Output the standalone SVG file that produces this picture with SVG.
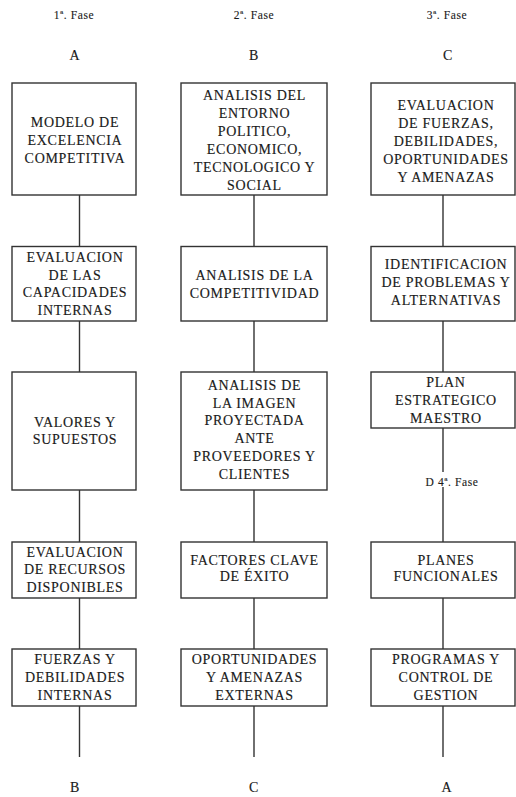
<svg xmlns="http://www.w3.org/2000/svg" width="516" height="797" viewBox="0 0 516 797">
  <style>
    .box { fill: #ffffff; stroke: #333333; stroke-width: 1.4; }
    .lbl { font-family: "Liberation Serif", "Times New Roman", serif; font-size: 14px; letter-spacing: 0.7px; fill: #1a1a1a; stroke: #1a1a1a; stroke-width: 0.15; text-anchor: middle; }
    .hdr { font-family: "Liberation Serif", "Times New Roman", serif; font-size: 11.5px; letter-spacing: 0.6px; fill: #1a1a1a; stroke: #1a1a1a; stroke-width: 0.12; text-anchor: middle; }
    .conn line { stroke: #333333; stroke-width: 1.4; }
  </style>
  <rect width="516" height="797" fill="#ffffff"/>

  <!-- phase headings -->
  <g id="headers">
    <text class="hdr" x="74" y="19">1ª. Fase</text>
    <text class="hdr" x="254" y="19">2ª. Fase</text>
    <text class="hdr" x="447" y="19">3ª. Fase</text>
    <text class="lbl" x="75" y="59.5">A</text>
    <text class="lbl" x="254" y="59.5">B</text>
    <text class="lbl" x="448" y="59.5">C</text>
  </g>

  <!-- connectors -->
  <g id="connectors" class="conn">
    <line x1="79.5" y1="195" x2="79.5" y2="246.5"/>
    <line x1="79.5" y1="321" x2="79.5" y2="372"/>
    <line x1="79.5" y1="490" x2="79.5" y2="542"/>
    <line x1="79.5" y1="598" x2="79.5" y2="649"/>
    <line x1="79.5" y1="706" x2="79.5" y2="757"/>
    <line x1="254" y1="195" x2="254" y2="246.5"/>
    <line x1="254" y1="321" x2="254" y2="372"/>
    <line x1="254" y1="490" x2="254" y2="542"/>
    <line x1="254" y1="598" x2="254" y2="649"/>
    <line x1="254" y1="706" x2="254" y2="757"/>
    <line x1="443" y1="195" x2="443" y2="246.5"/>
    <line x1="443" y1="321" x2="443" y2="372"/>
    <line x1="443" y1="428" x2="443" y2="472"/>
    <line x1="443" y1="487" x2="443" y2="542"/>
    <line x1="443" y1="598" x2="443" y2="649"/>
    <line x1="443" y1="706" x2="443" y2="757"/>
  </g>

  <!-- column 1 -->
  <g id="a1">
    <rect class="box" x="12" y="83" width="124" height="112"/>
    <text class="lbl" x="75" y="127">MODELO DE</text>
    <text class="lbl" x="75" y="145">EXCELENCIA</text>
    <text class="lbl" x="75" y="163">COMPETITIVA</text>
  </g>
  <g id="a2">
    <rect class="box" x="12" y="246.5" width="124" height="74.5"/>
    <text class="lbl" x="75" y="262">EVALUACION</text>
    <text class="lbl" x="75" y="279.5">DE LAS</text>
    <text class="lbl" x="75" y="297">CAPACIDADES</text>
    <text class="lbl" x="75" y="314.5">INTERNAS</text>
  </g>
  <g id="a3">
    <rect class="box" x="12" y="372" width="124" height="118"/>
    <text class="lbl" x="75" y="426.5">VALORES Y</text>
    <text class="lbl" x="75" y="443.5">SUPUESTOS</text>
  </g>
  <g id="a4">
    <rect class="box" x="12" y="542" width="124" height="56"/>
    <text class="lbl" x="75" y="556.5">EVALUACION</text>
    <text class="lbl" x="75" y="574">DE RECURSOS</text>
    <text class="lbl" x="75" y="591.5">DISPONIBLES</text>
  </g>
  <g id="a5">
    <rect class="box" x="12" y="649" width="124" height="57"/>
    <text class="lbl" x="75" y="663.5">FUERZAS Y</text>
    <text class="lbl" x="75" y="681.5">DEBILIDADES</text>
    <text class="lbl" x="75" y="700">INTERNAS</text>
  </g>

  <!-- column 2 -->
  <g id="b1">
    <rect class="box" x="181" y="83" width="146" height="112"/>
    <text class="lbl" x="254.5" y="99.5">ANALISIS DEL</text>
    <text class="lbl" x="254.5" y="117.5">ENTORNO</text>
    <text class="lbl" x="254.5" y="135.5">POLITICO,</text>
    <text class="lbl" x="254.5" y="153.5">ECONOMICO,</text>
    <text class="lbl" x="254.5" y="171.5">TECNOLOGICO Y</text>
    <text class="lbl" x="254.5" y="189.5">SOCIAL</text>
  </g>
  <g id="b2">
    <rect class="box" x="181" y="246.5" width="146" height="74.5"/>
    <text class="lbl" x="254.5" y="279.5">ANALISIS DE LA</text>
    <text class="lbl" x="254.5" y="297.5">COMPETITIVIDAD</text>
  </g>
  <g id="b3">
    <rect class="box" x="181" y="372" width="146" height="118"/>
    <text class="lbl" x="254.5" y="389.5">ANALISIS DE</text>
    <text class="lbl" x="254.5" y="407.5">LA IMAGEN</text>
    <text class="lbl" x="254.5" y="425">PROYECTADA</text>
    <text class="lbl" x="254.5" y="442.5">ANTE</text>
    <text class="lbl" x="254.5" y="460.5">PROVEEDORES Y</text>
    <text class="lbl" x="254.5" y="478.5">CLIENTES</text>
  </g>
  <g id="b4">
    <rect class="box" x="181" y="542" width="146" height="56"/>
    <text class="lbl" x="254.5" y="565">FACTORES CLAVE</text>
    <text class="lbl" x="254.5" y="581">DE ÉXITO</text>
  </g>
  <g id="b5">
    <rect class="box" x="181" y="649" width="146" height="57"/>
    <text class="lbl" x="254.5" y="663.5">OPORTUNIDADES</text>
    <text class="lbl" x="254.5" y="681.5">Y AMENAZAS</text>
    <text class="lbl" x="254.5" y="700">EXTERNAS</text>
  </g>

  <!-- column 3 -->
  <g id="c1">
    <rect class="box" x="371" y="83" width="144" height="112"/>
    <text class="lbl" x="446" y="109.5">EVALUACION</text>
    <text class="lbl" x="446" y="127.5">DE FUERZAS,</text>
    <text class="lbl" x="446" y="145.5">DEBILIDADES,</text>
    <text class="lbl" x="446" y="163.5">OPORTUNIDADES</text>
    <text class="lbl" x="446" y="181.5">Y AMENAZAS</text>
  </g>
  <g id="c2">
    <rect class="box" x="371" y="246.5" width="144" height="74.5"/>
    <text class="lbl" x="446" y="268.5">IDENTIFICACION</text>
    <text class="lbl" x="446" y="286.5">DE PROBLEMAS Y</text>
    <text class="lbl" x="446" y="305">ALTERNATIVAS</text>
  </g>
  <g id="c3">
    <rect class="box" x="371" y="372" width="144" height="56"/>
    <text class="lbl" x="446" y="386.5">PLAN</text>
    <text class="lbl" x="446" y="405">ESTRATEGICO</text>
    <text class="lbl" x="446" y="422.5">MAESTRO</text>
  </g>
  <g id="d-fase">
    <text class="hdr" x="452" y="485.5">D 4ª. Fase</text>
  </g>
  <g id="c4">
    <rect class="box" x="371" y="542" width="144" height="56"/>
    <text class="lbl" x="446" y="565">PLANES</text>
    <text class="lbl" x="446" y="581">FUNCIONALES</text>
  </g>
  <g id="c5">
    <rect class="box" x="371" y="649" width="144" height="57"/>
    <text class="lbl" x="446" y="663.5">PROGRAMAS Y</text>
    <text class="lbl" x="446" y="681.5">CONTROL DE</text>
    <text class="lbl" x="446" y="700">GESTION</text>
  </g>

  <!-- continuation letters -->
  <g id="footers">
    <text class="lbl" x="75" y="792">B</text>
    <text class="lbl" x="254" y="792">C</text>
    <text class="lbl" x="447" y="792">A</text>
  </g>
</svg>
